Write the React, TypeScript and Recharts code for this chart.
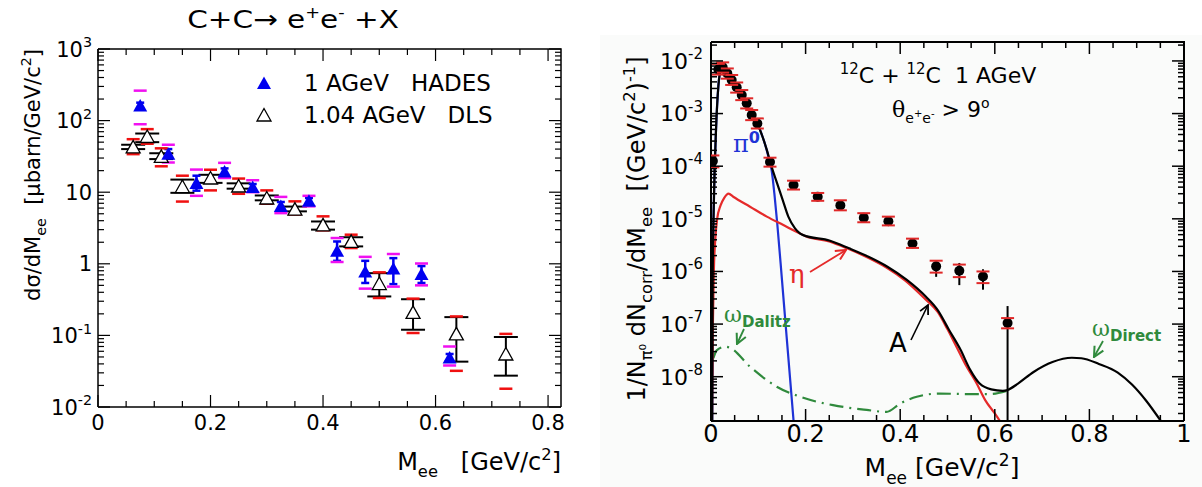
import React from 'react';
import { ComposedChart, Scatter, Line, XAxis, YAxis, ErrorBar } from 'recharts';

const FONT = '"DejaVu Sans", "Liberation Sans", Arial, sans-serif';
const SERIF = '"DejaVu Serif", "Liberation Serif", serif';

// ---------------- Left panel: C+C -> e+e- X, dsigma/dMee ----------------
const hadesMass = [0.075, 0.125, 0.175, 0.225, 0.275, 0.325, 0.375, 0.425, 0.475, 0.525, 0.575, 0.625];
const hadesXsec = [162, 34.5, 13.4, 19.5, 11.8, 6.4, 7.6, 1.52, 0.78, 0.86, 0.72, 0.049];
const hadesSysLow = [89, 26, 8.9, 15.8, 10, 5.1, 6.35, 1.06, 0.45, 0.48, 0.5, 0.038];
const hadesSysHigh = [262, 46, 20.7, 25.7, 14.7, 8.6, 8.9, 2.29, 1.25, 1.37, 1.01, 0.07];
const hadesStatLow = [148, 30, 10.5, 17.5, 10.8, 5.6, 7.0, 1.1, 0.54, 0.52, 0.54, 0.044];
const hadesStatHigh = [178, 40, 17, 21.5, 13, 7.3, 8.3, 2.05, 1.1, 1.2, 0.93, 0.055];

const dlsMass = [0.0625, 0.0875, 0.1125, 0.15, 0.2, 0.25, 0.3, 0.35, 0.4, 0.45, 0.5, 0.56, 0.637, 0.725];
const dlsXsec = [43, 60, 31.6, 12, 15.8, 12.2, 8.3, 5.8, 3.5, 2.06, 0.53, 0.21, 0.105, 0.055];
const dlsSysLow = [34, 47.5, 23, 7.4, 10.6, 9.5, 6.9, 4.85, 2.93, 1.66, 0.333, 0.108, 0.032, 0.018];
const dlsSysHigh = [55, 76, 41, 17, 20.6, 15.5, 10.6, 7.45, 4.6, 2.55, 0.76, 0.326, 0.184, 0.105];
const dlsStatLow = [40, 50, 29, 9.8, 13.5, 11.2, 7.7, 5.4, 3.0, 1.75, 0.35, 0.12, 0.043, 0.0274];
const dlsStatHigh = [46, 66, 35, 15, 17.5, 13.3, 9.0, 6.3, 3.9, 2.35, 0.74, 0.32, 0.18, 0.095];

const leftDecades = [0.01, 0.1, 1, 10, 100, 1000];

// ---------------- Right panel: 12C+12C 1 AGeV, normalised yield ----------------
const dataMass = [0.004, 0.0155, 0.0247, 0.0345, 0.0437, 0.0543, 0.065, 0.0755, 0.086, 0.098, 0.1247,
  0.1745, 0.2256, 0.2735, 0.323, 0.375, 0.426, 0.476, 0.525, 0.575, 0.627];
const dataYield = [1.25e-4, 6.9e-3, 7.6e-3, 5.8e-3, 4.35e-3, 3.16e-3, 2.26e-3, 1.57e-3, 9.4e-4, 6.5e-4, 1.2e-4,
  4.4e-5, 2.63e-5, 1.8e-5, 1.05e-5, 9.0e-6, 3.4e-6, 1.25e-6, 1.03e-6, 8.0e-7, 1.05e-7];
const dataSysLow = [0.95e-4, 5.5e-3, 6.0e-3, 4.6e-3, 3.5e-3, 2.5e-3, 1.8e-3, 1.25e-3, 7.5e-4, 5.2e-4, 0.98e-4,
  3.6e-5, 2.2e-5, 1.45e-5, 8.6e-6, 7.5e-6, 2.8e-6, 0.95e-6, 0.78e-6, 0.6e-6, 0.83e-7];
const dataSysHigh = [1.6e-4, 8.8e-3, 9.4e-3, 7.2e-3, 5.4e-3, 3.9e-3, 2.8e-3, 1.95e-3, 1.17e-3, 8.1e-4, 1.45e-4,
  5.3e-5, 3.1e-5, 2.25e-5, 1.28e-5, 1.1e-5, 4.2e-6, 1.6e-6, 1.35e-6, 1.0e-6, 1.3e-7];
const dataStatLow = [1.15e-4, 6.6e-3, 7.3e-3, 5.55e-3, 4.15e-3, 3.0e-3, 2.15e-3, 1.49e-3, 8.9e-4, 6.1e-4, 1.12e-4,
  4.0e-5, 2.4e-5, 1.65e-5, 9.5e-6, 8.2e-6, 3.0e-6, 0.79e-6, 0.55e-6, 0.45e-6, 1.45e-9];
const dataStatHigh = [1.36e-4, 7.2e-3, 7.9e-3, 6.05e-3, 4.55e-3, 3.32e-3, 2.37e-3, 1.65e-3, 9.9e-4, 6.9e-4, 1.28e-4,
  4.8e-5, 2.85e-5, 1.95e-5, 1.15e-5, 9.8e-6, 3.85e-6, 1.55e-6, 1.45e-6, 1.1e-6, 2.2e-7];

// total cocktail (A), including the omega direct bump
const totalMass = [0.0025, 0.0035, 0.0063, 0.0106, 0.0155, 0.0205, 0.026, 0.04, 0.0613, 0.0825, 0.1036, 0.118,
  0.128, 0.14, 0.1515, 0.1635, 0.1776, 0.188, 0.195, 0.2516, 0.292, 0.333, 0.373, 0.414, 0.4545, 0.479, 0.503,
  0.5276, 0.548, 0.568, 0.5925, 0.617, 0.627, 0.649, 0.682, 0.722, 0.763, 0.783, 0.82, 0.86, 0.89, 0.92, 0.952];
const totalYield = [1.4e-9, 6.3e-7, 2.63e-5, 4.9e-4, 3.24e-3, 6.76e-3, 8.04e-3, 5.0e-3, 2.63e-3, 1.1e-3, 4.9e-4, 2.04e-4,
  9.8e-5, 4.68e-5, 2.29e-5, 1.1e-5, 6.6e-6, 5.3e-6, 4.9e-6, 3.84e-6, 2.75e-6, 1.9e-6, 1.23e-6, 6.9e-7, 3.3e-7, 1.86e-7, 7.8e-8,
  3.24e-8, 1.35e-8, 7.4e-9, 5.75e-9, 5.4e-9, 5.6e-9, 7.4e-9, 1.23e-8, 1.9e-8, 2.29e-8, 2.24e-8, 1.75e-8, 1.2e-8, 7.1e-9, 3.5e-9, 1.4e-9];

const pi0Mass = [0.0025, 0.0035, 0.0063, 0.0106, 0.0155, 0.0205, 0.026, 0.04, 0.0613, 0.0825, 0.1036, 0.118,
  0.124, 0.128, 0.134, 0.14, 0.15, 0.16, 0.175];
const pi0Yield = [1.4e-9, 6.3e-7, 2.6e-5, 4.9e-4, 3.24e-3, 6.76e-3, 8.04e-3, 5.0e-3, 2.63e-3, 1.1e-3, 4.9e-4, 2.0e-4,
  1.2e-4, 8.5e-5, 3.0e-5, 8.3e-6, 7.0e-7, 5.6e-8, 1.3e-9];

const etaMass = [0.002, 0.004, 0.006, 0.009, 0.013, 0.02, 0.028, 0.037, 0.047, 0.0825, 0.118, 0.153, 0.188, 0.2,
  0.25, 0.29, 0.33, 0.37, 0.41, 0.45, 0.48, 0.5, 0.52, 0.54, 0.56, 0.58, 0.6, 0.615];
const etaYield = [1.26e-9, 1e-7, 1e-6, 3.98e-6, 1e-5, 1.78e-5, 2.51e-5, 3.02e-5, 2.63e-5, 1.7e-5, 1.1e-5, 7.6e-6, 5.25e-6,
  4.68e-6, 3.72e-6, 2.69e-6, 1.86e-6, 1.2e-6, 6.76e-7, 3.16e-7, 1.66e-7, 7.94e-8, 3.55e-8, 1.58e-8, 7.94e-9, 3.55e-9, 2.0e-9, 1.26e-9];

const omegaDalitzMass = [0.005, 0.012, 0.0296, 0.04, 0.0825, 0.139, 0.188, 0.258, 0.329, 0.371, 0.4, 0.435, 0.484,
  0.54, 0.59, 0.625];
const omegaDalitzYield = [2.24e-8, 3.16e-8, 3.72e-8, 3.55e-8, 1.55e-8, 6.46e-9, 4.17e-9, 2.88e-9, 2.34e-9, 2.14e-9,
  3.09e-9, 4.17e-9, 4.79e-9, 4.68e-9, 4.68e-9, 5.37e-9];

const rightDecades = [1e-8, 1e-7, 1e-6, 1e-5, 1e-4, 1e-3, 1e-2];

// ---------------- helpers ----------------
const steps = (from: number, to: number, step: number) => {
  const out: number[] = [];
  for (let v = from; v <= to + 1e-9; v += step) out.push(Math.round(v * 1000) / 1000);
  return out;
};
const logMinor = (decades: number[], lo: number, hi: number) => {
  const out: number[] = [];
  decades.forEach((d) => {
    for (let k = 2; k <= 9; k++) {
      const v = d * k;
      if (v >= lo && v <= hi) out.push(v);
    }
  });
  return out;
};
const curve = (mass: number[], val: number[]) => mass.map((m, i) => ({ m, v: val[i] }));
const points = (mass: number[], val: number[], lo: number[], hi: number[]) =>
  mass.map((m, i) => ({ m, v: val[i], err: [val[i] - lo[i], hi[i] - val[i]] }));
const caps = (mass: number[], lo: number[], hi: number[]) =>
  mass.flatMap((m, i) => [{ m, v: lo[i] }, { m, v: hi[i] }]);

const LEFT_Y: [number, number] = [0.01, 1000];
const LEFT_X: [number, number] = [0, 0.823];
const RIGHT_Y: [number, number] = [1.44e-9, 0.0229];
const RIGHT_X: [number, number] = [0, 1];

// chart boxes
const L = { w: 600, h: 487, top: 49, right: 39, xh: 80, yw: 98 };
const R = { w: 602, h: 487, top: 42, right: 18, xh: 66, yw: 111 };
const L_PW = L.w - L.yw - L.right;
const L_PH = L.h - L.top - L.xh;
const R_PW = R.w - R.yw - R.right;
const R_PH = R.h - R.top - R.xh;

// every tick (labelled and unlabelled) goes through the axes; labels only on the major ones
const leftXTicks = steps(0, 0.8, 0.05);
const leftYTicks = [...leftDecades, ...logMinor([0.01, 0.1, 1, 10, 100], 0.01, 1000)].sort((a, b) => a - b);
const rightXTicks = steps(0, 1, 0.05);
const rightYTicks = [...rightDecades, ...logMinor([1e-9, 1e-8, 1e-7, 1e-6, 1e-5, 1e-4, 1e-3, 1e-2], RIGHT_Y[0], 0.02),
  RIGHT_Y[1]].sort((a, b) => a - b);

const hadesPts = points(hadesMass, hadesXsec, hadesStatLow, hadesStatHigh);
const hadesCaps = caps(hadesMass, hadesSysLow, hadesSysHigh);
const dlsPts = points(dlsMass, dlsXsec, dlsStatLow, dlsStatHigh);
const dlsCaps = caps(dlsMass, dlsSysLow, dlsSysHigh);
const rightPts = points(dataMass, dataYield, dataStatLow, dataStatHigh);
const rightCaps = caps(dataMass, dataSysLow, dataSysHigh);
const totalCurve = curve(totalMass, totalYield);
const pi0Curve = curve(pi0Mass, pi0Yield);
const etaCurve = curve(etaMass, etaYield);
const omegaDalitzCurve = curve(omegaDalitzMass, omegaDalitzYield);

const fmtX = (v: number) => (v === 0 ? '0' : Number.isInteger(v) ? String(v) : v.toFixed(1));

// bottom axis tick: inward tick on the bottom and top edges, label on every 0.2
const XFrameTick = (p: any) => {
  const v = p.payload.value;
  const axisY = p.y - p.tm;
  const major = Math.abs(v / 0.2 - Math.round(v / 0.2)) < 1e-6;
  const len = major ? 12 : 6;
  return (
    <g>
      <line x1={p.x} x2={p.x} y1={axisY} y2={axisY - len} stroke="#000" strokeWidth={p.sw} />
      <line x1={p.x} x2={p.x} y1={axisY - p.ph} y2={axisY - p.ph + len} stroke="#000" strokeWidth={p.sw} />
      {major && (
        <text x={p.x} y={p.y + p.fs * 0.74} textAnchor="middle" fontFamily={FONT} fontSize={p.fs} fill="#000">
          {fmtX(v)}
        </text>
      )}
    </g>
  );
};

// left axis tick: inward tick on the left and right edges, powers of ten as labels;
// the tick at the upper domain limit also closes the frame (top and right edges)
const YFrameTick = (p: any) => {
  const v = p.payload.value;
  const axisX = p.x + p.tm;
  const lg = Math.log10(v);
  const e = Math.round(lg);
  const decade = Math.abs(lg - e) < 1e-6;
  const top = Math.abs(v - p.ymax) / p.ymax < 1e-6;
  const len = decade ? 12 : 6;
  const ty = p.y + p.fs * 0.36;
  let label: React.ReactNode = null;
  if (decade) {
    if (p.plain && e === 0) label = <text x={p.x} y={ty} textAnchor="end" fontFamily={FONT} fontSize={p.fs}>1</text>;
    else if (p.plain && e === 1) label = <text x={p.x} y={ty} textAnchor="end" fontFamily={FONT} fontSize={p.fs}>10</text>;
    else label = (
      <text x={p.x} y={ty} textAnchor="end" fontFamily={FONT} fontSize={p.fs}>
        <tspan>10</tspan>
        <tspan dy={-p.fs * 0.45} fontSize={p.fs * 0.68}>{String(e)}</tspan>
      </text>
    );
  }
  return (
    <g>
      {top && (
        <path d={`M${axisX},${p.y} H${axisX + p.pw} V${p.y + p.ph}`} fill="none" stroke="#000" strokeWidth={p.fw} />
      )}
      {(!top || decade) && (
        <g>
          <line x1={axisX} x2={axisX + len} y1={p.y} y2={p.y} stroke="#000" strokeWidth={p.sw} />
          <line x1={axisX + p.pw - len} x2={axisX + p.pw} y1={p.y} y2={p.y} stroke="#000" strokeWidth={p.sw} />
        </g>
      )}
      {label}
    </g>
  );
};

const Cap = (p: any) => (
  <line x1={p.cx - p.w / 2} x2={p.cx + p.w / 2} y1={p.cy} y2={p.cy} stroke={p.color} strokeWidth={p.sw} />
);
const FilledTriangle = (p: any) => (
  <polygon points={`${p.cx - 7},${p.cy + 6} ${p.cx + 7},${p.cy + 6} ${p.cx},${p.cy - 6.5}`} fill="#0000f0" />
);
const OpenTriangle = (p: any) => (
  <polygon points={`${p.cx - 7},${p.cy + 6} ${p.cx + 7},${p.cy + 6} ${p.cx},${p.cy - 6.5}`} fill="#fff"
    stroke="#000" strokeWidth={1.3} />
);
const Dot = (p: any) => <circle cx={p.cx} cy={p.cy} r={5} fill="#000" />;

function LeftChart() {
  return (
    <ComposedChart width={L.w} height={L.h} margin={{ top: L.top, right: L.right, bottom: 0, left: 0 }}>
      <XAxis xAxisId="x" dataKey="m" type="number" domain={LEFT_X} allowDataOverflow ticks={leftXTicks} interval={0}
        height={L.xh} tickLine={false} tickSize={0} tickMargin={7} axisLine={{ stroke: '#000', strokeWidth: 1.5 }}
        tick={(p: any) => <XFrameTick {...p} fs={21} tm={7} ph={L_PH} sw={1.2} />} />
      <YAxis yAxisId="y" dataKey="v" type="number" scale="log" domain={LEFT_Y} allowDataOverflow ticks={leftYTicks}
        interval={0} width={L.yw} tickLine={false} tickSize={0} tickMargin={6} axisLine={{ stroke: '#000', strokeWidth: 1.5 }}
        tick={(p: any) => <YFrameTick {...p} fs={21} plain tm={6} pw={L_PW} ph={L_PH} ymax={LEFT_Y[1]} sw={1.2} fw={1.5} />} />
      <Scatter xAxisId="x" yAxisId="y" data={dlsCaps} isAnimationActive={false}
        shape={(p: any) => <Cap {...p} w={13} sw={2.5} color="#f01010" />} />
      <Scatter xAxisId="x" yAxisId="y" data={hadesCaps} isAnimationActive={false}
        shape={(p: any) => <Cap {...p} w={13} sw={2.5} color="#f010f0" />} />
      <Scatter xAxisId="x" yAxisId="y" data={dlsPts} isAnimationActive={false} shape={OpenTriangle}>
        <ErrorBar dataKey="err" direction="y" width={12} stroke="#000" strokeWidth={2} isAnimationActive={false} />
      </Scatter>
      <Scatter xAxisId="x" yAxisId="y" data={hadesPts} isAnimationActive={false} shape={FilledTriangle}>
        <ErrorBar dataKey="err" direction="y" width={4} stroke="#0000f0" strokeWidth={2.5} isAnimationActive={false} />
      </Scatter>
    </ComposedChart>
  );
}

function RightChart() {
  return (
    <ComposedChart width={R.w} height={R.h} margin={{ top: R.top, right: R.right, bottom: 0, left: 0 }}>
      <XAxis xAxisId="x" dataKey="m" type="number" domain={RIGHT_X} allowDataOverflow ticks={rightXTicks} interval={0}
        height={R.xh} tickLine={false} tickSize={0} tickMargin={3} axisLine={{ stroke: '#000', strokeWidth: 2 }}
        tick={(p: any) => <XFrameTick {...p} fs={24} tm={3} ph={R_PH} sw={1.5} />} />
      <YAxis yAxisId="y" dataKey="v" type="number" scale="log" domain={RIGHT_Y} allowDataOverflow ticks={rightYTicks}
        interval={0} width={R.yw} tickLine={false} tickSize={0} tickMargin={8} axisLine={{ stroke: '#000', strokeWidth: 2 }}
        tick={(p: any) => <YFrameTick {...p} fs={22} tm={8} pw={R_PW} ph={R_PH} ymax={RIGHT_Y[1]} sw={1.5} fw={2} />} />
      <Line xAxisId="x" yAxisId="y" data={omegaDalitzCurve} dataKey="v" type="monotone" dot={false}
        stroke="#2f8a3c" strokeWidth={2.2} strokeDasharray="14 6 2 6" isAnimationActive={false} />
      <Line xAxisId="x" yAxisId="y" data={pi0Curve} dataKey="v" type="monotone" dot={false}
        stroke="#1f33d6" strokeWidth={2.2} isAnimationActive={false} />
      <Line xAxisId="x" yAxisId="y" data={etaCurve} dataKey="v" type="monotone" dot={false}
        stroke="#e52a2a" strokeWidth={2.2} isAnimationActive={false} />
      <Line xAxisId="x" yAxisId="y" data={totalCurve} dataKey="v" type="monotone" dot={false}
        stroke="#000" strokeWidth={2.2} isAnimationActive={false} />
      <Scatter xAxisId="x" yAxisId="y" data={rightPts} isAnimationActive={false} shape={Dot}>
        <ErrorBar dataKey="err" direction="y" width={0} stroke="#000" strokeWidth={2} isAnimationActive={false} />
      </Scatter>
      <Scatter xAxisId="x" yAxisId="y" data={rightCaps} isAnimationActive={false}
        shape={(p: any) => <Cap {...p} w={13} sw={2} color="#e02828" />} />
    </ComposedChart>
  );
}

// rich text: pieces are [text, 'n' | 'b' | 'p'] for normal, subscript, superscript
type Piece = [string, 'n' | 'b' | 'p'];
function rich(pieces: Piece[], fs: number, small = 0.68) {
  let cur = 0;
  return pieces.map(([s, k], i) => {
    const target = k === 'b' ? fs * 0.3 : k === 'p' ? -fs * 0.42 : 0;
    const dy = target - cur;
    cur = target;
    return (
      <tspan key={i} dy={dy} fontSize={k === 'n' ? fs : fs * small}>{s}</tspan>
    );
  });
}

function Overlay() {
  const pre = { whiteSpace: 'pre' as const };
  return (
    <svg width={1202} height={487} style={{ position: 'absolute', left: 0, top: 0, pointerEvents: 'none' }}>
      <defs>
        {[['aRed', '#e52a2a'], ['aBlack', '#000'], ['aGreen', '#2f8a3c']].map(([id, c]) => (
          <marker key={id} id={id} viewBox="0 0 10 10" refX="9" refY="5" markerWidth="7" markerHeight="7" orient="auto">
            <path d="M1,1 L9,5 L1,9" fill="none" stroke={c} strokeWidth={1.6} />
          </marker>
        ))}
      </defs>
      {/* left panel texts */}
      <g transform="translate(293 28) scale(1.18 1)">
        <text x={0} y={0} textAnchor="middle" fontFamily={FONT} fontSize={25} style={pre}>
          {rich([['C+C\u2192 e', 'n'], ['+', 'p'], ['e', 'n'], ['-', 'p'], [' +X', 'n']], 25, 0.6)}
        </text>
      </g>
      <text x={40} y={49} textAnchor="end" transform="rotate(-90 40 49)" fontFamily={FONT} fontSize={21} style={pre}>
        {rich([['d\u03c3/dM', 'n'], ['ee', 'b'], ['  [\u03bcbarn/GeV/c', 'n'], ['2', 'p'], [']', 'n']], 21)}
      </text>
      <text x={561} y={470} textAnchor="end" fontFamily={FONT} fontSize={24} style={pre}>
        {rich([['M', 'n'], ['ee', 'b'], ['   [GeV/c', 'n'], ['2', 'p'], [']', 'n']], 24)}
      </text>
      <polygon points="257,89 271,89 264,76.5" fill="#0000f0" />
      <text x={304} y={91} fontFamily={FONT} fontSize={23} style={pre}>1 AGeV   HADES</text>
      <polygon points="257,121 271,121 264,108.5" fill="#fff" stroke="#000" strokeWidth={1.3} />
      <text x={304} y={123} fontFamily={FONT} fontSize={23} style={pre}>1.04 AGeV   DLS</text>

      {/* right panel texts */}
      <text x={645} y={229} textAnchor="middle" transform="rotate(-90 645 229)" fontFamily={FONT} fontSize={24} style={pre}>
        {rich([['1/N', 'n'], ['\u03c0\u2070', 'b'], [' dN', 'n'], ['corr', 'b'], ['/dM', 'n'], ['ee', 'b'],
          ['  [(GeV/c', 'n'], ['2', 'p'], [')', 'n'], ['-1', 'p'], [']', 'n']], 24)}
      </text>
      <text x={942} y={476} textAnchor="middle" fontFamily={FONT} fontSize={25} style={pre}>
        {rich([['M', 'n'], ['ee', 'b'], [' [GeV/c', 'n'], ['2', 'p'], [']', 'n']], 25)}
      </text>
      <text x={938} y={83} textAnchor="middle" fontFamily={FONT} fontSize={22} style={pre}>
        {rich([['12', 'p'], ['C + ', 'n'], ['12', 'p'], ['C  1 AGeV', 'n']], 22)}
      </text>
      <text x={892} y={117} fontFamily={SERIF} fontSize={22} style={pre}>
        <tspan>{'\u03b8'}</tspan>
        <tspan fontFamily={FONT} fontSize={14} dy={6}>e</tspan>
        <tspan fontFamily={FONT} fontSize={10} dy={-6}>+</tspan>
        <tspan fontFamily={FONT} fontSize={14} dy={6}>e</tspan>
        <tspan fontFamily={FONT} fontSize={10} dy={-6}>-</tspan>
        <tspan fontFamily={FONT} fontSize={22} dy={0}> {'>'} 9</tspan>
        <tspan fontFamily={FONT} fontSize={14} dy={-9}>o</tspan>
      </text>
      <text x={733} y={152} fontFamily={SERIF} fontSize={24} fill="#1f33d6">
        <tspan>{'\u03c0'}</tspan>
        <tspan dy={-9} fontSize={16} fontFamily={FONT} fontWeight="bold">0</tspan>
      </text>
      <text x={789} y={283} fontFamily={SERIF} fontSize={26} fill="#e52a2a">{'\u03b7'}</text>
      <line x1={810} y1={272} x2={846} y2={250} stroke="#e52a2a" strokeWidth={1.8} markerEnd="url(#aRed)" />
      <text x={724} y={322} fontFamily={SERIF} fontSize={22} fill="#2f8a3c">
        <tspan>{'\u03c9'}</tspan>
        <tspan dy={5} fontSize={15} fontFamily={FONT} fontWeight="bold">Dalitz</tspan>
      </text>
      <line x1={744} y1={329} x2={737} y2={344} stroke="#2f8a3c" strokeWidth={1.8} markerEnd="url(#aGreen)" />
      <text x={889} y={352} fontFamily={FONT} fontSize={26}>A</text>
      <line x1={911} y1={340} x2={928} y2={305} stroke="#000" strokeWidth={1.6} markerEnd="url(#aBlack)" />
      <text x={1092} y={336} fontFamily={SERIF} fontSize={22} fill="#2f8a3c">
        <tspan>{'\u03c9'}</tspan>
        <tspan dy={5} fontSize={15} fontFamily={FONT} fontWeight="bold">Direct</tspan>
      </text>
      <line x1={1103} y1={341} x2={1094} y2={357} stroke="#2f8a3c" strokeWidth={1.8} markerEnd="url(#aGreen)" />
    </svg>
  );
}

export default function App() {
  return (
    <div style={{ position: 'absolute', left: 0, top: 0, width: 1202, height: 487, background: '#fff', overflow: 'hidden' }}>
      <div style={{ position: 'absolute', left: 600, top: 35, width: 602, height: 452, background: '#fafbfa' }} />
      <div style={{ position: 'absolute', left: 0, top: 0 }}>
        <LeftChart />
      </div>
      <div style={{ position: 'absolute', left: 600, top: 0 }}>
        <RightChart />
      </div>
      <Overlay />
    </div>
  );
}
